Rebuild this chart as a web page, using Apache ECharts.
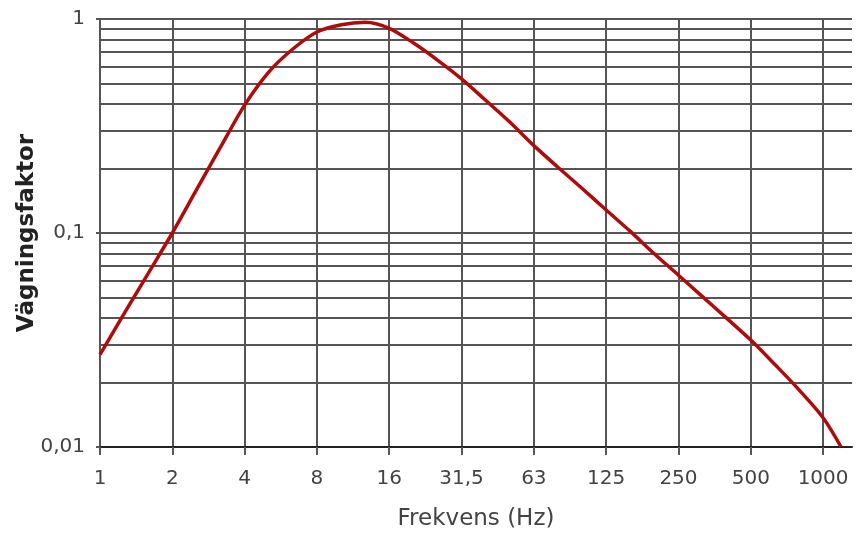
<!DOCTYPE html>
<html>
<head>
<meta charset="utf-8">
<script src="https://cdn.jsdelivr.net/npm/echarts@6/dist/echarts.min.js"></script>
<style>
  html, body { margin: 0; padding: 0; background: #fff; }
  #chart { width: 864px; height: 533px; }
</style>
</head>
<body>
<div id="chart"></div>
<script>
  // frequency points (Hz, third-octave steps on the base-2 grid) and weighting factor
  const freqs = [1, 1.26, 1.59, 2, 2.52, 3.17, 4, 5.04, 6.35, 8, 10.1, 12.7, 16, 20.2, 25.4, 32,
    40.3, 50.8, 64, 80.6, 102, 128, 161, 203, 256, 323, 406, 512, 645, 813, 1024, 1217];
  const weights = [0.027, 0.042, 0.065, 0.1, 0.159, 0.251, 0.396, 0.565, 0.724, 0.87, 0.94, 0.966,
    0.905, 0.772, 0.643, 0.525, 0.417, 0.33, 0.256, 0.203, 0.161, 0.128, 0.102, 0.08, 0.0635,
    0.0503, 0.04, 0.0316, 0.0243, 0.0185, 0.0137, 0.01];

  // x axis tick labels, one per octave
  const xTickLabels = ['1', '2', '4', '8', '16', '31,5', '63', '125', '250', '500', '1000'];
  // y axis decade labels
  const yTicks = [0.01, 0.1, 1];
  const yTickLabels = ['0,01', '0,1', '1'];
  // minor horizontal grid lines
  const yMinor = [0.02, 0.03, 0.04, 0.05, 0.06, 0.07, 0.08, 0.09,
    0.2, 0.3, 0.4, 0.5, 0.6, 0.7, 0.8, 0.9];

  const gridColor = '#555';

  const chart = echarts.init(document.getElementById('chart'));
  const option = {
    animation: false,
    grid: {
      left: 100,
      right: 12,
      top: 19,
      bottom: 86,
      outerBoundsMode: 'none'
    },
    xAxis: {
      type: 'log',
      logBase: 2,
      min: 1,
      max: 1351,
      interval: 1,
      splitNumber: 10,
      name: 'Frekvens (Hz)',
      nameLocation: 'middle',
      nameGap: 61,
      nameMoveOverlap: false,
      nameTextStyle: {
        fontFamily: 'DejaVu Sans',
        fontSize: 23,
        color: '#444'
      },
      axisLine: { lineStyle: { color: '#222', width: 2 } },
      axisTick: { show: true, length: 8, lineStyle: { color: gridColor, width: 2 } },
      axisLabel: {
        margin: 22,
        verticalAlign: 'top',
        fontFamily: 'DejaVu Sans',
        fontSize: 20,
        color: '#444',
        showMaxLabel: false,
        formatter: function (v) {
          const k = Math.round(Math.log2(v));
          if (Math.abs(Math.pow(2, k) - v) > 1e-6) return '';
          return xTickLabels[k] || '';
        }
      },
      splitLine: {
        show: true,
        showMaxLine: false,
        lineStyle: { color: gridColor, width: 2 }
      }
    },
    yAxis: {
      type: 'log',
      logBase: 10,
      min: 0.01,
      max: 1,
      name: 'Vägningsfaktor',
      nameLocation: 'middle',
      nameGap: 61,
      nameMoveOverlap: false,
      nameTextStyle: {
        fontFamily: 'DejaVu Sans',
        fontSize: 23,
        fontWeight: 'bold',
        color: '#222'
      },
      axisLine: { show: true, lineStyle: { color: gridColor, width: 2 } },
      axisTick: { show: true, length: 4, lineStyle: { color: gridColor, width: 2 } },
      axisLabel: {
        margin: 15,
        fontFamily: 'DejaVu Sans',
        fontSize: 20,
        color: '#444',
        formatter: function (v) {
          const i = yTicks.findIndex(function (t) { return Math.abs(t - v) / t < 1e-6; });
          return i >= 0 ? yTickLabels[i] : '';
        }
      },
      splitLine: {
        show: true,
        lineStyle: { color: gridColor, width: 2 }
      }
    },
    series: [
      {
        type: 'line',
        data: freqs.map(function (f, i) { return [f, weights[i]]; }),
        smooth: 0.3,
        symbol: 'none',
        lineStyle: { color: '#b00a0a', width: 3.5 },
        markLine: {
          silent: true,
          symbol: 'none',
          label: { show: false },
          lineStyle: { color: gridColor, width: 2, type: 'solid' },
          data: yMinor.map(function (v) { return { yAxis: v }; })
        },
        z: 5
      }
    ]
  };
  chart.setOption(option);

  window.addEventListener('resize', function () {
    chart.resize();
  });
</script>
</body>
</html>
